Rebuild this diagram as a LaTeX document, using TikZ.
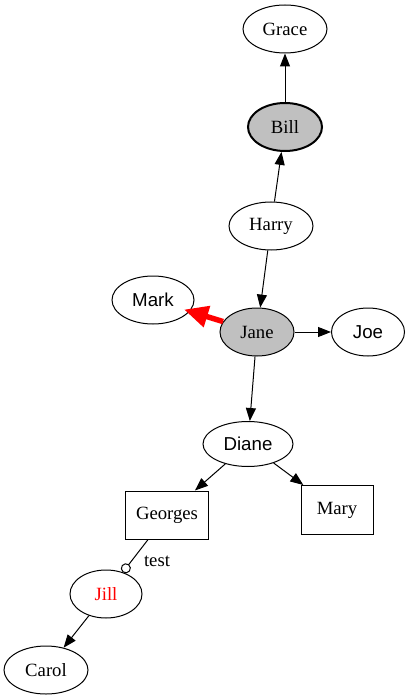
\documentclass[tikz,border=0pt]{standalone}
\usepackage{fontspec}
\setmainfont{Liberation Serif}
\newfontfamily\arialfont{Liberation Sans}
\usetikzlibrary{shapes.geometric,arrows.meta}
\definecolor{nodegray}{HTML}{C0C0C0}
\tikzset{
  base/.style={draw=black, line width=1pt, inner sep=0pt, font=\fontsize{18.7}{22}\selectfont},
  ell/.style={base, ellipse, minimum width=#1},
  ell/.default=84pt,
  tall/.style={minimum height=48pt},
  rectbox/.style={base, rectangle},
  edge/.style={draw=black, line width=1pt, -{Triangle[length=13pt,width=10pt]}},
  redge/.style={draw=red, line width=5.5pt, shorten >=-6pt, -{Triangle[length=24pt,width=21pt]}},
  odotedge/.style={draw=black, line width=1pt, -{Circle[open,length=10pt,width=10pt,line width=1pt]}},
}
\begin{document}
\begin{tikzpicture}[x=1pt,y=-1pt]
\useasboundingbox (0,0) rectangle (410,700);
\node[ell=84pt, tall] (grace) at (285,29) {Grace};
\node[ell=74pt, tall, fill=nodegray, line width=2pt] (bill) at (285,127) {Bill};
\node[ell=84pt, tall] (harry) at (271,226) {Harry};
\node[ell=82pt, tall, font=\fontsize{18.7}{22}\arialfont] (mark) at (153,300) {Mark};
\node[ell=74pt, tall, fill=nodegray] (jane) at (257,332) {Jane};
\node[ell=73pt, tall, font=\fontsize{18.7}{22}\arialfont] (joe) at (368,332) {Joe};
\node[ell=90pt, minimum height=45pt, font=\fontsize{18.7}{22}\arialfont] (diane) at (248,444) {Diane};
\node[rectbox, minimum width=83pt, minimum height=48pt] (georges) at (167,515) {Georges};
\node[rectbox, minimum width=72pt, minimum height=49pt] (mary) at (337,510) {Mary};
\node[ell=72pt, tall, text=red] (jill) at (106,594) {Jill};
\node[ell=84pt, tall] (carol) at (46,670) {Carol};

\draw[edge] (bill) -- (grace);
\draw[edge] (harry) -- (bill);
\draw[edge] (harry) -- (jane);
\draw[redge] (jane) -- (mark);
\draw[edge] (jane) -- (joe);
\draw[edge] (jane) -- (diane);
\draw[edge] (diane) -- (georges);
\draw[edge] (diane) -- (mary);
\draw[odotedge] (georges) -- (jill);
\draw[edge] (jill) -- (carol);
\node[font=\fontsize{18.7}{22}\selectfont, inner sep=0pt] (testlbl) at (157,561) {test};
\end{tikzpicture}
\end{document}
